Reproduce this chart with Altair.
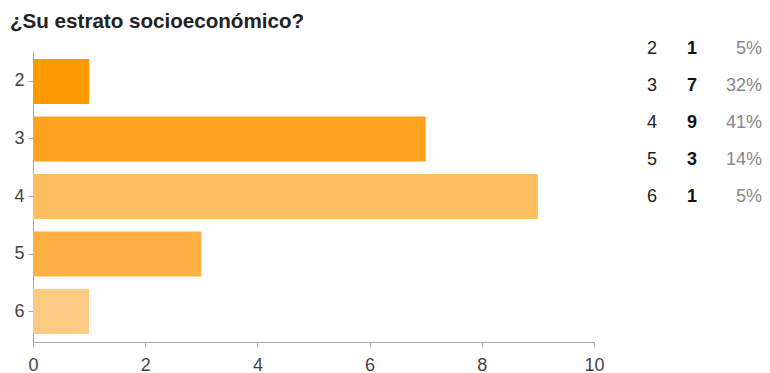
import altair as alt
import pandas as pd

categories = ["2", "3", "4", "5", "6"]
counts = [1, 7, 9, 3, 1]
percents = ["5%", "32%", "41%", "14%", "5%"]
bar_colors = ["#FF9900", "#FFA31F", "#FFBF5F", "#FFB040", "#FFCB84"]
x_ticks = [0, 2, 4, 6, 8, 10]
title_text = "¿Su estrato socioeconómico?"

FONT = "Liberation Sans"

df = pd.DataFrame({"cat": categories, "count": counts, "pct": percents})

bars = alt.Chart(df).mark_bar().encode(
    x=alt.X("count:Q", scale=alt.Scale(domain=[0, 10], nice=False),
            axis=alt.Axis(values=x_ticks, grid=False, title=None, labelFontSize=18,
                          labelColor="#444", labelFont=FONT, domainColor="#aaa",
                          tickColor="#aaa", tickSize=5, labelPadding=9, format="d",
                          labelFlush=False)),
    y=alt.Y("cat:N", sort=categories,
            scale=alt.Scale(paddingInner=0.22, paddingOuter=0.14),
            axis=alt.Axis(title=None, labelAngle=0, grid=False, labelFontSize=18,
                          labelColor="#444", labelFont=FONT, domainColor="#aaa",
                          tickColor="#aaa", tickSize=5, labelPadding=4, minExtent=23)),
    color=alt.Color("cat:N", scale=alt.Scale(domain=categories, range=bar_colors), legend=None),
).properties(width=561, height=291)

tdf = pd.DataFrame({
    "cat": categories * 3,
    "col": ["cat"] * 5 + ["count"] * 5 + ["pct"] * 5,
    "text": categories + [str(c) for c in counts] + percents,
})

xcol = alt.X("col:N", scale=alt.Scale(type="point", domain=["cat", "count", "pct"], padding=0), axis=None)
ycol = alt.Y("cat:N", sort=categories, scale=alt.Scale(type="point", padding=0), axis=None)

tbase = alt.Chart(tdf).encode(x=xcol, y=ycol, text="text:N")
t_cat = tbase.transform_filter(alt.datum.col == "cat").mark_text(
    font=FONT, fontSize=18, color="#222", align="center", baseline="middle", dy=-2)
t_cnt = tbase.transform_filter(alt.datum.col == "count").mark_text(
    font=FONT, fontSize=18, color="#111", fontWeight="bold", align="center", baseline="middle", dx=-15, dy=-2)
t_pct = tbase.transform_filter(alt.datum.col == "pct").mark_text(
    font=FONT, fontSize=18, color="#888", align="right", baseline="middle", dy=-2)

table = alt.layer(t_cat, t_cnt, t_pct).properties(width=110, height=148)

chart = alt.hconcat(bars, table, spacing=58, bounds="flush").properties(
    title=alt.TitleParams(title_text, anchor="start", fontSize=20.6, fontWeight="bold",
                          font=FONT, color="#222", offset=7),
    padding={"left": 2, "top": 4, "right": 0, "bottom": 0},
).configure_view(stroke=None)

chart.save("out.html", embed_options={"renderer": "svg", "actions": False})
